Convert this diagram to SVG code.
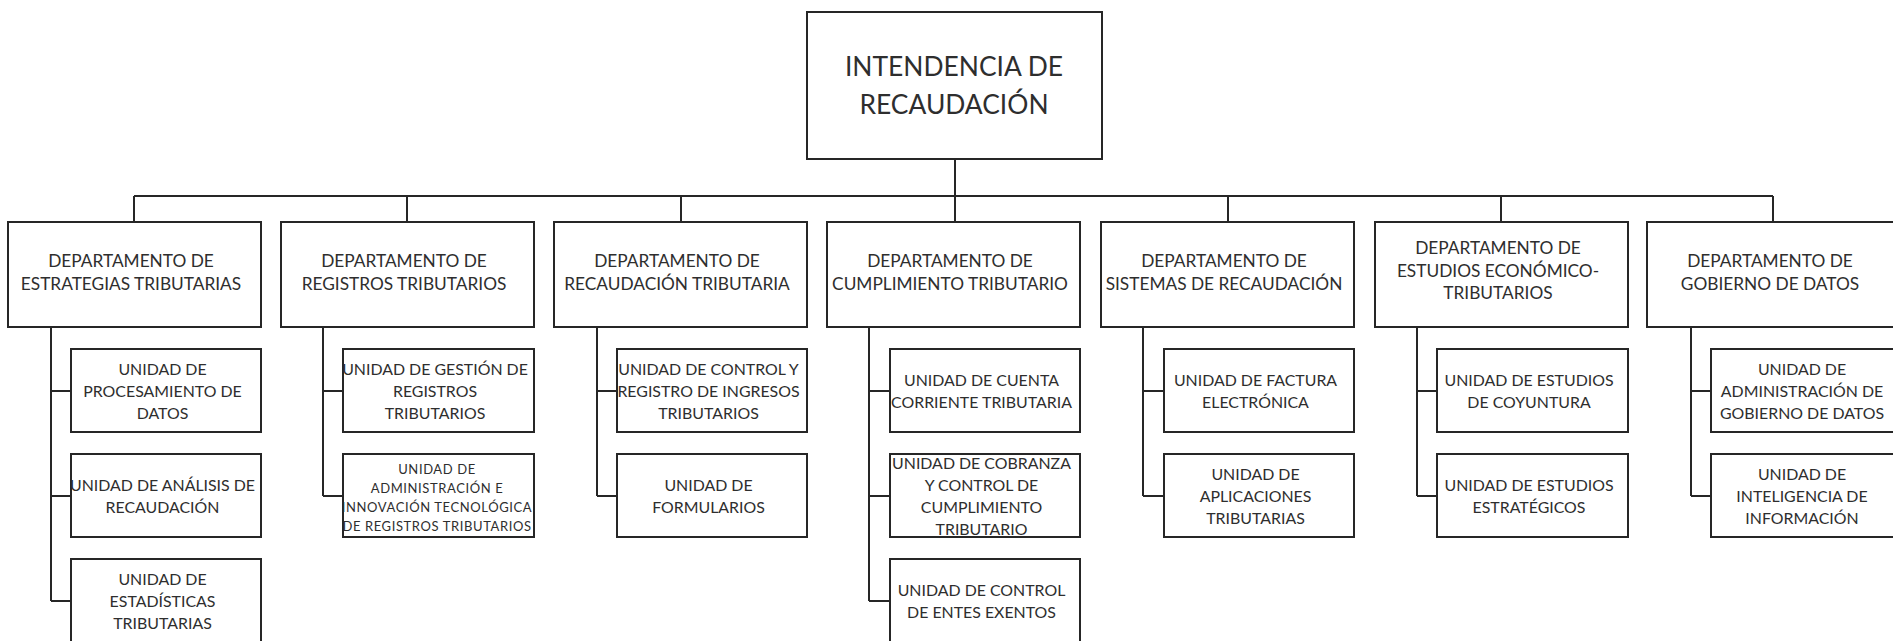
<svg xmlns="http://www.w3.org/2000/svg" width="1893" height="641" viewBox="0 0 1893 641">
<style>
.box{fill:#ffffff;stroke:#262626;stroke-width:2}
.ln{fill:none;stroke:#262626;stroke-width:2}
text{font-family:Lato,"Noto Sans","Liberation Sans",sans-serif;fill:#2e2e2e;text-anchor:middle}
.top{font-size:26.4px}
.dep{font-size:17.3px}
.uni{font-size:15.9px}
.sm{font-size:13px;letter-spacing:0.6px}
</style>
<rect width="1893" height="641" fill="#ffffff"/>
<g id="connectors">
<path class="ln" d="M955 159V222M134 196H1773M134 196V222M407 196V222M681 196V222M1228 196V222M1501 196V222M1773 196V222"/>
<path class="ln" d="M51 327V601M51 391H71M51 496H71M51 601H71"/>
<path class="ln" d="M323 327V496M323 391H343M323 496H343"/>
<path class="ln" d="M597 327V496M597 391H617M597 496H617"/>
<path class="ln" d="M869 327V601M869 391H890M869 496H890M869 601H890"/>
<path class="ln" d="M1143 327V496M1143 391H1164M1143 496H1164"/>
<path class="ln" d="M1417 327V496M1417 391H1437M1417 496H1437"/>
<path class="ln" d="M1691 327V496M1691 391H1711M1691 496H1711"/>
</g>
<g id="intendencia">
<rect class="box" x="807" y="12" width="295" height="147"/>
<text class="top" x="954"><tspan x="954" y="76">INTENDENCIA DE</tspan><tspan x="954" y="114">RECAUDACIÓN</tspan></text>
</g>
<g id="dep1">
<rect class="box" x="8" y="222" width="253" height="105"/>
<text class="dep"><tspan x="131" y="267">DEPARTAMENTO DE</tspan><tspan x="131" y="290">ESTRATEGIAS TRIBUTARIAS</tspan></text>
</g>
<g id="dep2">
<rect class="box" x="281" y="222" width="253" height="105"/>
<text class="dep"><tspan x="404" y="267">DEPARTAMENTO DE</tspan><tspan x="404" y="290">REGISTROS TRIBUTARIOS</tspan></text>
</g>
<g id="dep3">
<rect class="box" x="554" y="222" width="253" height="105"/>
<text class="dep"><tspan x="677" y="267">DEPARTAMENTO DE</tspan><tspan x="677" y="290">RECAUDACIÓN TRIBUTARIA</tspan></text>
</g>
<g id="dep4">
<rect class="box" x="827" y="222" width="253" height="105"/>
<text class="dep"><tspan x="950" y="267">DEPARTAMENTO DE</tspan><tspan x="950" y="290">CUMPLIMIENTO TRIBUTARIO</tspan></text>
</g>
<g id="dep5">
<rect class="box" x="1101" y="222" width="253" height="105"/>
<text class="dep"><tspan x="1224" y="267">DEPARTAMENTO DE</tspan><tspan x="1224" y="290">SISTEMAS DE RECAUDACIÓN</tspan></text>
</g>
<g id="dep6">
<rect class="box" x="1375" y="222" width="253" height="105"/>
<text class="dep"><tspan x="1498" y="254">DEPARTAMENTO DE</tspan><tspan x="1498" y="276.5">ESTUDIOS ECONÓMICO-</tspan><tspan x="1498" y="299">TRIBUTARIOS</tspan></text>
</g>
<g id="dep7">
<rect class="box" x="1647" y="222" width="253" height="105"/>
<text class="dep"><tspan x="1770" y="267">DEPARTAMENTO DE</tspan><tspan x="1770" y="290">GOBIERNO DE DATOS</tspan></text>
</g>
<g id="u1a">
<rect class="box" x="71" y="349" width="190" height="83"/>
<text class="uni"><tspan x="162.5" y="375.2">UNIDAD DE</tspan><tspan x="162.5" y="397.2">PROCESAMIENTO DE</tspan><tspan x="162.5" y="419.2">DATOS</tspan></text>
</g>
<g id="u1b">
<rect class="box" x="71" y="454" width="190" height="83"/>
<text class="uni"><tspan x="162.5" y="491.4">UNIDAD DE ANÁLISIS DE</tspan><tspan x="162.5" y="513.4">RECAUDACIÓN</tspan></text>
</g>
<g id="u1c">
<rect class="box" x="71" y="559" width="190" height="83"/>
<text class="uni"><tspan x="162.5" y="585">UNIDAD DE</tspan><tspan x="162.5" y="607">ESTADÍSTICAS</tspan><tspan x="162.5" y="629">TRIBUTARIAS</tspan></text>
</g>
<g id="u2a">
<rect class="box" x="343" y="349" width="191" height="83"/>
<text class="uni"><tspan x="435" y="375.2">UNIDAD DE GESTIÓN DE</tspan><tspan x="435" y="397.2">REGISTROS</tspan><tspan x="435" y="419.2">TRIBUTARIOS</tspan></text>
</g>
<g id="u2b">
<rect class="box" x="343" y="454" width="191" height="83"/>
<text class="sm"><tspan x="437" y="474">UNIDAD DE</tspan><tspan x="437" y="493">ADMINISTRACIÓN E</tspan><tspan x="437" y="512">INNOVACIÓN TECNOLÓGICA</tspan><tspan x="437" y="531">DE REGISTROS TRIBUTARIOS</tspan></text>
</g>
<g id="u3a">
<rect class="box" x="617" y="349" width="190" height="83"/>
<text class="uni"><tspan x="708.5" y="375.2">UNIDAD DE CONTROL Y</tspan><tspan x="708.5" y="397.2">REGISTRO DE INGRESOS</tspan><tspan x="708.5" y="419.2">TRIBUTARIOS</tspan></text>
</g>
<g id="u3b">
<rect class="box" x="617" y="454" width="190" height="83"/>
<text class="uni"><tspan x="708.5" y="491.4">UNIDAD DE</tspan><tspan x="708.5" y="513.4">FORMULARIOS</tspan></text>
</g>
<g id="u4a">
<rect class="box" x="890" y="349" width="190" height="83"/>
<text class="uni"><tspan x="981.5" y="386.2">UNIDAD DE CUENTA</tspan><tspan x="981.5" y="408.2">CORRIENTE TRIBUTARIA</tspan></text>
</g>
<g id="u4b">
<rect class="box" x="890" y="454" width="190" height="83"/>
<text class="uni"><tspan x="981.5" y="469.4">UNIDAD DE COBRANZA</tspan><tspan x="981.5" y="491.4">Y CONTROL DE</tspan><tspan x="981.5" y="513.4">CUMPLIMIENTO</tspan><tspan x="981.5" y="535.4">TRIBUTARIO</tspan></text>
</g>
<g id="u4c">
<rect class="box" x="890" y="559" width="190" height="83"/>
<text class="uni"><tspan x="981.5" y="596">UNIDAD DE CONTROL</tspan><tspan x="981.5" y="618">DE ENTES EXENTOS</tspan></text>
</g>
<g id="u5a">
<rect class="box" x="1164" y="349" width="190" height="83"/>
<text class="uni"><tspan x="1255.5" y="386.2">UNIDAD DE FACTURA</tspan><tspan x="1255.5" y="408.2">ELECTRÓNICA</tspan></text>
</g>
<g id="u5b">
<rect class="box" x="1164" y="454" width="190" height="83"/>
<text class="uni"><tspan x="1255.5" y="480.4">UNIDAD DE</tspan><tspan x="1255.5" y="502.4">APLICACIONES</tspan><tspan x="1255.5" y="524.4">TRIBUTARIAS</tspan></text>
</g>
<g id="u6a">
<rect class="box" x="1437" y="349" width="191" height="83"/>
<text class="uni"><tspan x="1529" y="386.2">UNIDAD DE ESTUDIOS</tspan><tspan x="1529" y="408.2">DE COYUNTURA</tspan></text>
</g>
<g id="u6b">
<rect class="box" x="1437" y="454" width="191" height="83"/>
<text class="uni"><tspan x="1529" y="491.4">UNIDAD DE ESTUDIOS</tspan><tspan x="1529" y="513.4">ESTRATÉGICOS</tspan></text>
</g>
<g id="u7a">
<rect class="box" x="1711" y="349" width="189" height="83"/>
<text class="uni"><tspan x="1802" y="375.2">UNIDAD DE</tspan><tspan x="1802" y="397.2">ADMINISTRACIÓN DE</tspan><tspan x="1802" y="419.2">GOBIERNO DE DATOS</tspan></text>
</g>
<g id="u7b">
<rect class="box" x="1711" y="454" width="189" height="83"/>
<text class="uni"><tspan x="1802" y="480.4">UNIDAD DE</tspan><tspan x="1802" y="502.4">INTELIGENCIA DE</tspan><tspan x="1802" y="524.4">INFORMACIÓN</tspan></text>
</g>
</svg>
